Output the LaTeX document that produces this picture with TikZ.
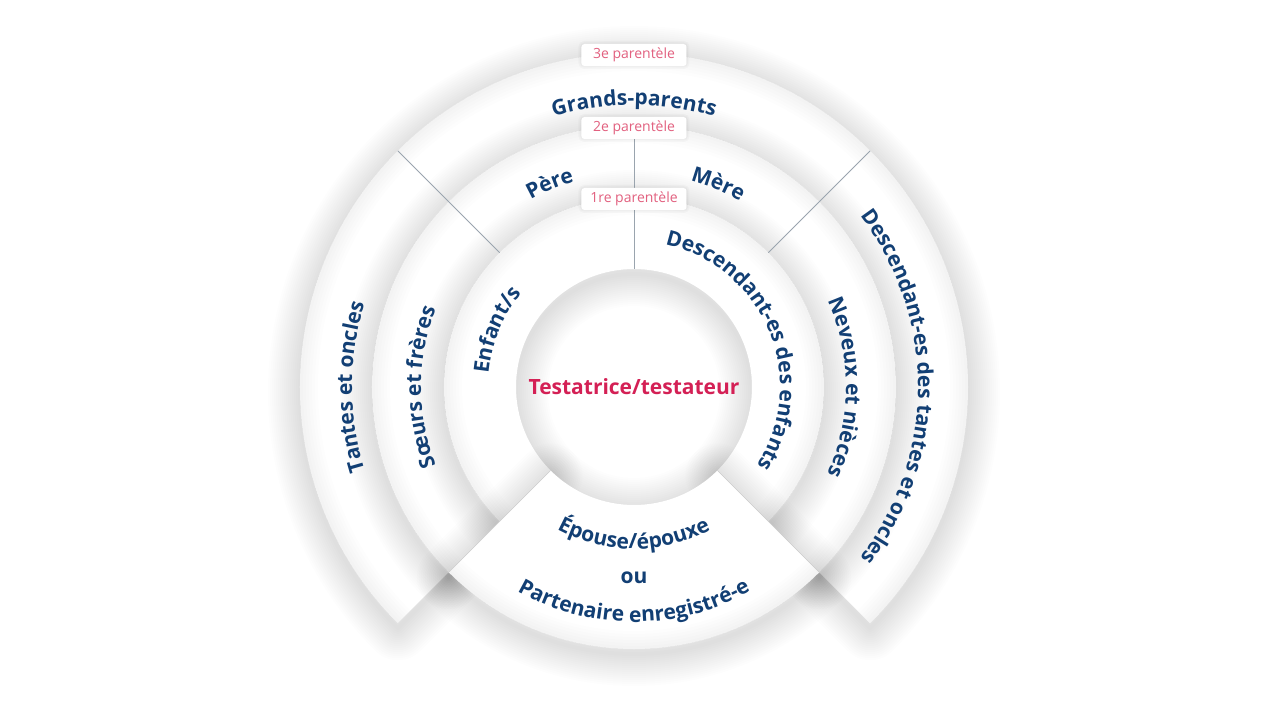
\documentclass[tikz,border=0pt]{standalone}
\usepackage{fontspec}
\setmainfont{Open Sans}
\usetikzlibrary{decorations.text}
\definecolor{navy}{HTML}{123F74}
\definecolor{rosered}{HTML}{D42055}
\definecolor{tagpink}{HTML}{E2607F}
\definecolor{divgray}{HTML}{9AA4AE}

% annular sector: #1 start angle, #2 end angle, #3 inner r, #4 outer r, #5 options
\newcommand{\sectorshape}[5]{%
  \path[#5] (#1:#4pt) arc[start angle=#1, end angle=#2, radius=#4pt]
    -- (#2:#3pt) arc[start angle=#2, end angle=#1, radius=#3pt] -- cycle;}
\newcommand{\shadowedsector}[4]{%
  \foreach \w in {4,8,...,64} {%
    \sectorshape{#1}{#2}{#3}{#4}{draw=black, line width=\w pt, draw opacity=0.0085, yshift=-5pt, line join=round}}%
  \sectorshape{#1}{#2}{#3}{#4}{fill=white}%
  \begin{scope}
    \clip (#1:#4pt) arc[start angle=#1, end angle=#2, radius=#4pt]
      -- (#2:#3pt) arc[start angle=#2, end angle=#1, radius=#3pt] -- cycle;
    \foreach \w in {6,12,...,36} {%
      \draw[draw=black, draw opacity=0.007, line width=\w pt] (#1:#4pt) arc[start angle=#1, end angle=#2, radius=#4pt];}
  \end{scope}}

\tikzset{
  curved/.style={decorate, decoration={text along path, text align=center,
      text color=navy,
      text={|\fontsize{21}{25}\selectfont\bfseries|#1}}},
  divider/.style={draw=divgray, line width=0.8pt},
  edgeline/.style={draw=black!20, line width=0.6pt},
  tagbox/.style={fill=white, rounded corners=3pt, minimum width=105pt,
      minimum height=22pt, inner sep=0pt, text=tagpink,
      font=\fontsize{14}{16}\selectfont,
      preaction={draw=black, draw opacity=0.025, line width=6pt},
      preaction={draw=black, draw opacity=0.025, line width=3pt}},
  plainlabel/.style={text=navy, font=\fontsize{21}{25}\selectfont\bfseries, inner sep=0pt},
}

\begin{document}
\begin{tikzpicture}[x=1pt,y=1pt]
\fill[white] (-634pt,-333pt) rectangle (646pt,387pt);
\useasboundingbox (-634pt,-333pt) rectangle (646pt,387pt);

% rings, outermost first
\shadowedsector{-45}{225}{262}{334}
\shadowedsector{-45}{225}{190}{262}
\shadowedsector{-45}{225}{118}{190}
% spouse sector
\shadowedsector{225}{315}{118}{262}
\draw[edgeline] (225:118pt) -- (225:262pt);
\draw[edgeline] (315:118pt) -- (315:262pt);

% dividers
\draw[divider] (90:118pt) -- (90:262pt);
\draw[divider] (135:190pt) -- (135:334pt);
\draw[divider] (45:190pt) -- (45:334pt);

% ring 3 texts
\path[curved={Grands-parents}] (130:282pt) arc[start angle=130, end angle=50, radius=282pt];
\path[curved={Tantes et oncles}] (220:282pt) arc[start angle=220, end angle=140, radius=282pt];
\path[curved={Descendant-es des tantes et oncles}] (62:284pt) arc[start angle=62, end angle=-62, radius=284pt];
% ring 2 texts
\path[curved={Père}] (134:214pt) arc[start angle=134, end angle=91, radius=214pt];
\path[curved={Mère}] (89:214pt) arc[start angle=89, end angle=46, radius=214pt];
\path[curved={Sœurs et frères}] (224:213pt) arc[start angle=224, end angle=136, radius=213pt];
\path[curved={Neveux et nièces}] (44:212pt) arc[start angle=44, end angle=-44, radius=212pt];
% ring 1 texts
\path[curved={Enfant/s}] (220:146pt) arc[start angle=220, end angle=95, radius=146pt];
\path[curved={Descendant-es des enfants}] (94:146pt) arc[start angle=94, end angle=-49, radius=146pt];
% spouse texts
\path[curved={Épouse/épouxe}] (215:162pt) arc[start angle=215, end angle=325, radius=162pt];
\node[plainlabel] (ou) at (270:191pt) {ou};
\path[curved={Partenaire enregistré-e}] (215:235pt) arc[start angle=215, end angle=325, radius=235pt];

% tags
\node[tagbox] (t3) at (90:332pt) {3e parentèle};
\node[tagbox] (t2) at (90:259pt) {2e parentèle};
\node[tagbox] (t1) at (90:188pt) {1re parentèle};

% centre
\node[text=rosered, font=\fontsize{21}{25}\selectfont\bfseries, inner sep=0pt] (testator) at (0,0) {Testatrice/testateur};
\end{tikzpicture}
\end{document}
